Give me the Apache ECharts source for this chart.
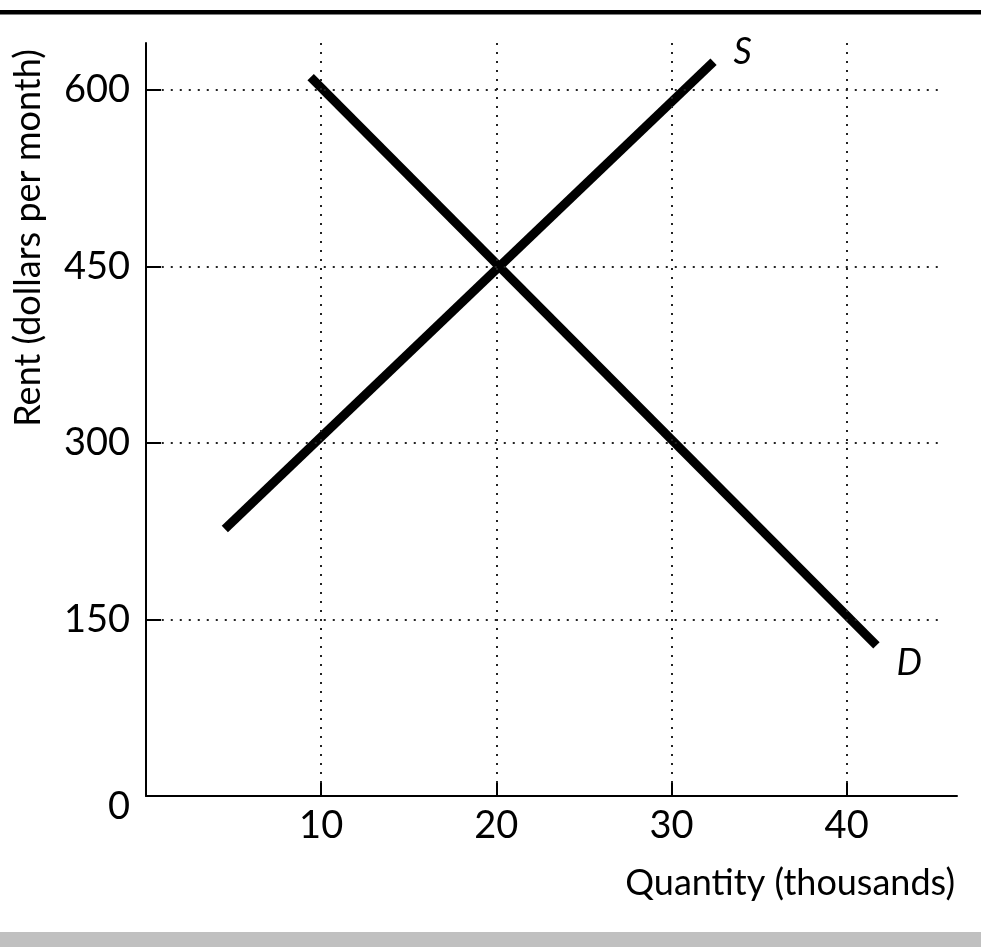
<!DOCTYPE html>
<html>
<head>
<meta charset="utf-8">
<script src="https://cdn.jsdelivr.net/npm/echarts@6/dist/echarts.min.js"></script>
<style>
  html, body { margin: 0; padding: 0; background: #fff; }
  #chart { width: 981px; height: 947px; }
</style>
</head>
<body>
<div id="chart"></div>
<script>
// Rent market: supply and demand
const quantityTicks = [10, 20, 30, 40]
const rentTicks = [0, 150, 300, 450, 600]
const supplyPoints = [[4.5, 227], [32.4, 624]]
const demandPoints = [[9.4, 611], [41.7, 128]]

const FONT = 'Lato'
const dotted = { type: [2, 7], width: 2, color: '#222' }

const chart = echarts.init(document.getElementById('chart'))

// dotted guide lines at each tick
const guides = []
rentTicks.filter((v) => v > 0).forEach((v) => {
  guides.push([{ coord: [0.9, v] }, { coord: [45.2, v] }])
})
quantityTicks.forEach((q) => {
  guides.push([{ coord: [q, 11] }, { coord: [q, 640] }])
})

chart.setOption({
  animation: false,
  grid: { left: 146, right: 24, top: 43, bottom: 151 },
  xAxis: {
    type: 'value',
    min: 0,
    max: 46.3,
    interval: 10,
    axisLine: { lineStyle: { color: '#000', width: 2 } },
    axisTick: { inside: true, length: 13, lineStyle: { color: '#000', width: 2 }, customValues: quantityTicks },
    axisLabel: {
      customValues: quantityTicks,
      margin: 11,
      color: '#000',
      fontFamily: FONT,
      fontSize: 38
    },
    splitLine: { show: false }
  },
  yAxis: {
    type: 'value',
    min: 0,
    max: 640,
    interval: 150,
    axisLine: { lineStyle: { color: '#000', width: 2 } },
    axisTick: { inside: true, length: 15, lineStyle: { color: '#000', width: 2 }, customValues: rentTicks.slice(1) },
    axisLabel: {
      customValues: rentTicks,
      margin: 16,
      color: '#000',
      fontFamily: FONT,
      fontSize: 38,
      formatter: (v) => (v === 0 ? '{z|0}' : String(v)),
      rich: { z: { fontFamily: FONT, fontSize: 38, color: '#000', padding: [22, 0, 0, 0] } }
    },
    splitLine: { show: false }
  },
  graphic: [
    { type: 'rect', left: 0, top: 10, shape: { width: 981, height: 4.5 }, style: { fill: '#000' } },
    { type: 'rect', left: 0, top: 932, shape: { width: 981, height: 15 }, style: { fill: '#c0c0c0' } },
    {
      type: 'text',
      x: 28,
      y: 238,
      rotation: Math.PI / 2,
      style: {
        text: 'Rent (dollars per month)',
        font: '36px Lato',
        fill: '#000',
        align: 'center',
        verticalAlign: 'middle'
      }
    },
    {
      type: 'text',
      x: 955,
      y: 883,
      style: {
        text: 'Quantity (thousands)',
        font: '36px Lato',
        fill: '#000',
        align: 'right',
        verticalAlign: 'middle'
      }
    }
  ],
  series: [
    {
      name: 'guides',
      type: 'line',
      data: [],
      silent: true,
      markLine: {
        silent: true,
        symbol: 'none',
        label: { show: false },
        lineStyle: dotted,
        data: guides
      }
    },
    {
      name: 'S',
      type: 'line',
      data: supplyPoints,
      symbol: 'none',
      lineStyle: { color: '#000', width: 9, cap: 'butt' },
      endLabel: {
        show: true,
        formatter: 'S',
        offset: [12, -9],
        fontFamily: FONT,
        fontStyle: 'italic',
        fontSize: 36,
        color: '#000'
      }
    },
    {
      name: 'D',
      type: 'line',
      data: demandPoints,
      symbol: 'none',
      lineStyle: { color: '#000', width: 9, cap: 'butt' },
      endLabel: {
        show: true,
        formatter: 'D',
        offset: [12, 18],
        fontFamily: FONT,
        fontStyle: 'italic',
        fontSize: 36,
        color: '#000'
      }
    }
  ]
})
</script>
</body>
</html>
